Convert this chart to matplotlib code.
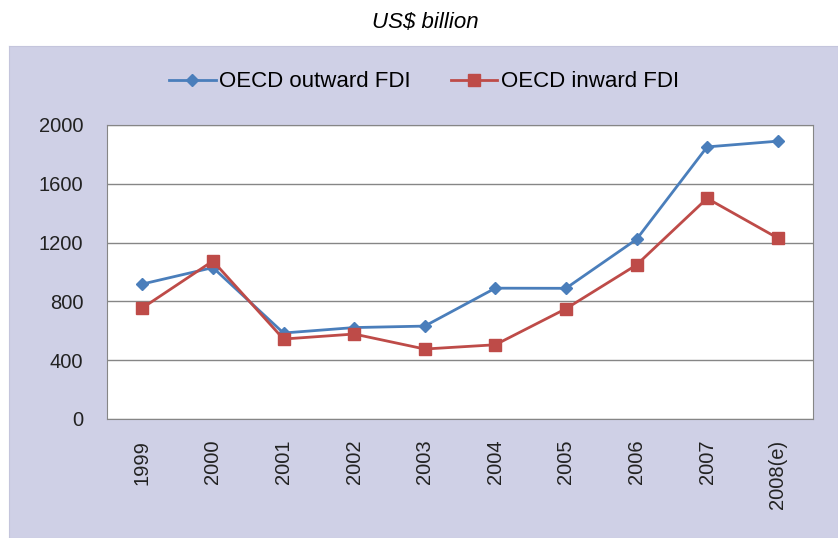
import matplotlib.pyplot as plt

plt.rcParams['font.family'] = ['Liberation Sans', 'DejaVu Sans']

years = ['1999', '2000', '2001', '2002', '2003', '2004', '2005', '2006', '2007', '2008(e)']
outward = [918, 1030, 585, 622, 632, 890, 889, 1222, 1851, 1890]
inward = [755, 1075, 544, 578, 476, 505, 750, 1048, 1501, 1231]
yticks = [0, 400, 800, 1200, 1600, 2000]

W, H = 838, 538
fig = plt.figure(figsize=(W / 100, H / 100), dpi=100)
fig.patch.set_facecolor('white')

# lavender chart area behind everything
bg = fig.add_axes([9 / W, 0, 1 - 9 / W, (H - 46) / H], zorder=-1)
bg.set_facecolor('#cfd0e6')
bg.set_xticks([])
bg.set_yticks([])
for s in bg.spines.values():
    s.set_color('#c4c5dc')

fig.text(425 / W, 1 - 22 / H, 'US$ billion', ha='center', va='center',
         fontsize=16, style='italic')

ax = fig.add_axes([107 / W, (H - 419) / H, 706 / W, 294 / H], zorder=1)
ax.set_facecolor('white')
x = range(len(years))
ax.plot(x, outward, color='#4a7ebb', lw=2, marker='D', ms=6,
        label='OECD outward FDI', zorder=3)
ax.plot(x, inward, color='#be4b48', lw=2, marker='s', ms=8.5,
        label='OECD inward FDI', zorder=4)

ax.set_xlim(-0.5, len(years) - 0.5)
ax.set_ylim(0, 2000)
ax.set_yticks(yticks)
ax.set_xticks(list(x))
ax.set_xticklabels(years, rotation=90)
ax.tick_params(axis='both', length=0, labelsize=14.5, colors='#222222')
ax.tick_params(axis='y', pad=17)
ax.tick_params(axis='x', pad=15)
ax.grid(axis='y', color='#868686', lw=1)
ax.set_axisbelow(True)
for s in ax.spines.values():
    s.set_color('#868686')

fig.legend(loc='center', bbox_to_anchor=(424 / W, 1 - 82 / H), ncol=2,
           frameon=False, fontsize=16, handlelength=2.1, handletextpad=0.15,
           columnspacing=1.8, borderpad=0, borderaxespad=0)

fig.savefig('out.png', dpi=100)
